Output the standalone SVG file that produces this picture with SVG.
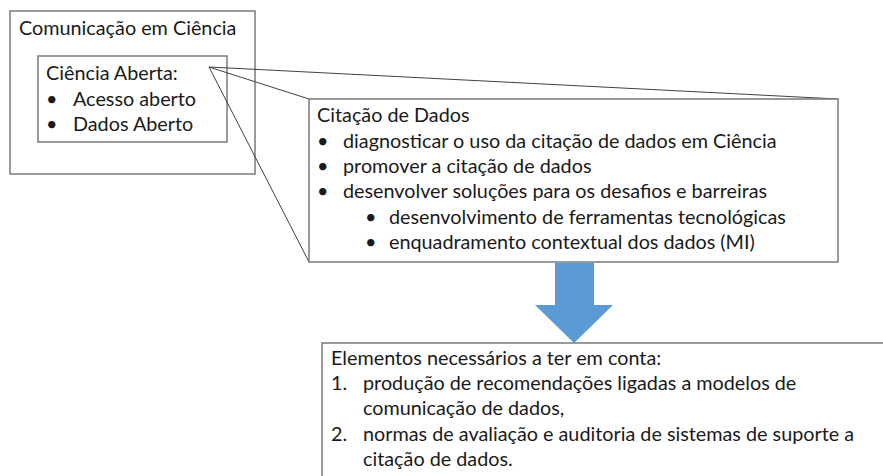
<svg xmlns="http://www.w3.org/2000/svg" width="883" height="476" viewBox="0 0 883 476">
<style>
.box{fill:#ffffff;stroke:#7a7a7a;stroke-width:1.5}
.cl{stroke:#404040;stroke-width:1;fill:none}
text{font-family:Lato,"Liberation Sans",sans-serif;font-size:19.8px;fill:#1a1a1a}
.arrow{fill:#5b9bd5}
</style>
<rect width="883" height="476" fill="#ffffff"/>
<g id="comunicacao">
<rect class="box" x="10" y="11" width="245" height="163"/>
<text x="19" y="35">Comunicação em Ciência</text>
</g>
<g id="ciencia-aberta">
<rect class="box" x="38" y="56" width="189" height="86"/>
<text x="46" y="80">Ciência Aberta:</text>
<text x="46" y="106">•</text>
<text x="73" y="106">Acesso aberto</text>
<text x="46" y="131">•</text>
<text x="73" y="131">Dados Aberto</text>
</g>
<g id="connectors">
<line class="cl" x1="209" y1="67" x2="838" y2="99"/>
<line class="cl" x1="209" y1="67" x2="309" y2="99"/>
<line class="cl" x1="209" y1="67" x2="309" y2="262"/>
</g>
<g id="citacao">
<rect class="box" x="309" y="99" width="529" height="163"/>
<text x="317" y="122">Citação de Dados</text>
<text x="317" y="148">•</text>
<text x="343" y="148">diagnosticar o uso da citação de dados em Ciência</text>
<text x="317" y="173">•</text>
<text x="343" y="173">promover a citação de dados</text>
<text x="317" y="198">•</text>
<text x="343" y="198">desenvolver soluções para os desafios e barreiras</text>
<text x="365" y="224">•</text>
<text x="389" y="224">desenvolvimento de ferramentas tecnológicas</text>
<text x="365" y="249">•</text>
<text x="389" y="249">enquadramento contextual dos dados (MI)</text>
</g>
<g id="seta">
<polygon class="arrow" points="555,263 594,263 594,305 613,305 574,343 535,305 555,305"/>
</g>
<g id="elementos">
<rect class="box" x="322" y="343" width="580" height="150"/>
<text x="331" y="365">Elementos necessários a ter em conta:</text>
<text x="331" y="390">1.</text>
<text x="363" y="390">produção de recomendações ligadas a modelos de</text>
<text x="363" y="415">comunicação de dados,</text>
<text x="331" y="441">2.</text>
<text x="363" y="441">normas de avaliação e auditoria de sistemas de suporte a</text>
<text x="363" y="466">citação de dados.</text>
</g>
</svg>
